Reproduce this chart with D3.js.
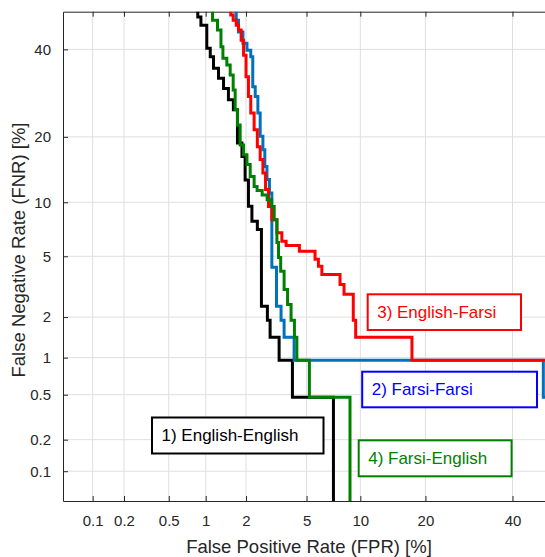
<!DOCTYPE html>
<html>
<head>
<meta charset="utf-8">
<script src="https://cdn.jsdelivr.net/npm/d3@7"></script>
<style>
  html, body { margin: 0; padding: 0; background: #fff; }
  svg { display: block; font-family: "Liberation Sans", Arial, sans-serif; }
</style>
</head>
<body>
<div id="chart"></div>
<script>
'use strict';

// tick values in percent, shared by both axes
const ticks = [0.1, 0.2, 0.5, 1, 2, 5, 10, 20, 40];
const tickLabels = ["0.1", "0.2", "0.5", "1", "2", "5", "10", "20", "40"];

const seriesNames = ["1) English-English", "2) Farsi-Farsi", "3) English-Farsi", "4) Farsi-English"];

// DET curves (FPR %, FNR %), one point per step corner
const engEngFpr = [0.866, 0.866, 0.917, 1.02, 1.085, 1.15, 1.255, 1.37, 1.49, 1.62, 1.735, 1.87, 1.97, 2.08, 2.20, 2.40, 2.56, 2.81, 2.93, 3.36, 4.09, 7.17];
const engEngFnr = [60, 48.6, 46.4, 40.3, 38.1, 35.2, 32.7, 30.3, 27.7, 25.5, 18.85, 16.5, 12.9, 9.53, 7.93, 7.15, 2.38, 1.90, 1.43, 0.952, 0.476, 0.01];

const farFarFpr = [1.70, 1.70, 1.765, 1.90, 2.03, 2.16, 2.23, 2.32, 2.42, 2.51, 2.62, 2.70, 2.79, 2.90, 3.01, 3.23, 3.46, 3.62, 4.19, 48.2, 60];
const farFarFnr = [60, 47.7, 44.6, 41.6, 39.8, 38.1, 30.7, 28.4, 24.8, 20.1, 17.66, 14.9, 12.95, 11.15, 4.29, 2.38, 1.90, 1.43, 0.952, 0.476, 0.476];

const engFarFpr = [1.55, 1.55, 1.615, 1.70, 1.765, 1.845, 1.92, 2.00, 2.08, 2.16, 2.28, 2.40, 2.51, 2.62, 2.73, 2.86, 3.01, 3.25, 3.50, 3.73, 4.52, 5.62, 5.88, 6.16, 7.80, 8.20, 9.19, 9.46, 17.55, 60];
const engFarFnr = [60, 49.1, 47.7, 46.4, 45.1, 42.4, 38.5, 33.1, 28.4, 24.8, 21.35, 18.2, 16.0, 13.9, 11.6, 9.5, 8.1, 6.86, 6.14, 5.8, 5.36, 4.8, 4.35, 3.86, 3.33, 2.87, 1.90, 1.43, 0.952, 0.952];

const farEngFpr = [1.13, 1.13, 1.233, 1.31, 1.355, 1.45, 1.535, 1.615, 1.67, 1.735, 1.815, 1.92, 2.03, 2.14, 2.28, 2.39, 2.59, 2.80, 3.00, 3.12, 3.25, 3.33, 3.44, 3.62, 3.81, 4.01, 4.21, 4.36, 5.20, 8.83];
const farEngFnr = [60, 47.7, 45.1, 40.7, 37.7, 36.0, 33.5, 29.95, 25.5, 22.3, 18.5, 16.8, 15.2, 13.4, 12.0, 11.45, 10.9, 10.3, 9.5, 8.1, 6.03, 4.92, 4.04, 3.09, 2.45, 1.90, 1.43, 0.952, 0.476, 0.01];

(function() {
    // inverse normal CDF (Acklam's approximation), used for the DET axes
    function probit(p) {
        var a = [-3.969683028665376e+01, 2.209460984245205e+02, -2.759285104469687e+02, 1.383577518672690e+02, -3.066479806614716e+01, 2.506628277459239e+00];
        var b = [-5.447609879822406e+01, 1.615858368580409e+02, -1.556989798598866e+02, 6.680131188771972e+01, -1.328068155288572e+01];
        var c = [-7.784894002430293e-03, -3.223964580411365e-01, -2.400758277161838e+00, -2.549732539343734e+00, 4.374664141464968e+00, 2.938163982698783e+00];
        var d = [7.784695709041462e-03, 3.224671290700398e-01, 2.445134137142996e+00, 3.754408661907416e+00];
        var pl = 0.02425, q, r;
        if (p < pl) {
            q = Math.sqrt(-2 * Math.log(p));
            return (((((c[0]*q+c[1])*q+c[2])*q+c[3])*q+c[4])*q+c[5]) / ((((d[0]*q+d[1])*q+d[2])*q+d[3])*q+1);
        }
        if (p <= 1 - pl) {
            q = p - 0.5; r = q * q;
            return (((((a[0]*r+a[1])*r+a[2])*r+a[3])*r+a[4])*r+a[5])*q / (((((b[0]*r+b[1])*r+b[2])*r+b[3])*r+b[4])*r+1);
        }
        q = Math.sqrt(-2 * Math.log(1 - p));
        return -(((((c[0]*q+c[1])*q+c[2])*q+c[3])*q+c[4])*q+c[5]) / ((((d[0]*q+d[1])*q+d[2])*q+d[3])*q+1);
    }
    function pr(pct) { return probit(pct / 100); }

    var W = 545, H = 557;
    var left = 63, right = 550, top = 11.7, bottom = 501;
    var axisColor = "#262626";

    var x = d3.scaleLinear().domain([pr(0.05), pr(50)]).range([left, right]);
    var y = d3.scaleLinear().domain([pr(0.05), pr(50)]).range([bottom, top]);

    var svg = d3.select("#chart").append("svg")
        .attr("width", W).attr("height", H);

    svg.append("rect").attr("width", W).attr("height", H).attr("fill", "#fff");

    svg.append("defs").append("clipPath").attr("id", "plotclip")
        .append("rect")
        .attr("x", left).attr("y", top)
        .attr("width", right - left).attr("height", bottom - top);

    // grid
    var grid = svg.append("g").attr("stroke", "#dfdfdf").attr("stroke-width", 1);
    ticks.forEach(function(t) {
        grid.append("line")
            .attr("x1", x(pr(t))).attr("x2", x(pr(t)))
            .attr("y1", top).attr("y2", bottom);
        grid.append("line")
            .attr("x1", left).attr("x2", right)
            .attr("y1", y(pr(t))).attr("y2", y(pr(t)));
    });

    var tickPos = ticks.map(pr);

    // axes, MATLAB style ticks pointing inwards
    var xAxis = d3.axisBottom(x).tickValues(tickPos)
        .tickFormat(function(d, i) { return tickLabels[i]; })
        .tickSizeInner(-5).tickSizeOuter(0).tickPadding(14);
    var gx = svg.append("g").attr("transform", "translate(0," + bottom + ")").call(xAxis);

    var gxTop = svg.append("g").attr("transform", "translate(0," + top + ")")
        .call(d3.axisTop(x).tickValues(tickPos).tickFormat("").tickSizeInner(-5).tickSizeOuter(0));

    var yAxis = d3.axisLeft(y).tickValues(tickPos)
        .tickFormat(function(d, i) { return tickLabels[i]; })
        .tickSizeInner(-5).tickSizeOuter(0).tickPadding(12);
    var gy = svg.append("g").attr("transform", "translate(" + left + ",0)").call(yAxis);

    [gx, gxTop, gy].forEach(function(g) {
        g.selectAll(".domain").attr("stroke", axisColor).attr("stroke-width", 1);
        g.selectAll(".tick line").attr("stroke", axisColor).attr("stroke-width", 1);
        g.selectAll(".tick text")
            .attr("fill", axisColor)
            .style("font-family", '"Liberation Sans", Arial, sans-serif')
            .style("font-size", "15px");
    });

    // curves
    var series = [
        { fpr: engEngFpr, fnr: engEngFnr, color: "#000000" },
        { fpr: farFarFpr, fnr: farFarFnr, color: "#0072BD" },
        { fpr: engFarFpr, fnr: engFarFnr, color: "#FF0000" },
        { fpr: farEngFpr, fnr: farEngFnr, color: "#008000" }
    ];

    var line = d3.line()
        .x(function(d) { return x(pr(d[0])); })
        .y(function(d) { return y(pr(d[1])); })
        .curve(d3.curveStepAfter);

    var plot = svg.append("g").attr("clip-path", "url(#plotclip)");
    series.forEach(function(s) {
        var pts = s.fpr.map(function(v, i) { return [v, s.fnr[i]]; });
        plot.append("path")
            .attr("d", line(pts))
            .attr("fill", "none")
            .attr("stroke", s.color)
            .attr("stroke-width", 3)
            .attr("stroke-linejoin", "miter");
    });

    // text box labels
    var boxes = [
        { name: seriesNames[0], color: "#000000", x: 152, y: 417.5, w: 171.5, h: 36 },
        { name: seriesNames[1], color: "#0000FF", x: 362.2, y: 371.7, w: 174.8, h: 35.6 },
        { name: seriesNames[2], color: "#FF0000", x: 367.7, y: 294.3, w: 153.3, h: 35.7 },
        { name: seriesNames[3], color: "#008000", x: 358.7, y: 440.3, w: 152.9, h: 36 }
    ];
    boxes.forEach(function(b) {
        var g = svg.append("g");
        g.append("rect")
            .attr("x", b.x).attr("y", b.y)
            .attr("width", b.w).attr("height", b.h)
            .attr("fill", "#fff")
            .attr("stroke", b.color).attr("stroke-width", 2);
        g.append("text")
            .attr("x", b.x + 9.5).attr("y", b.y + 23.5)
            .attr("fill", b.color)
            .style("font-size", "17px")
            .text(b.name);
    });

    // axis labels
    svg.append("text")
        .attr("x", 309).attr("y", 552.5)
        .attr("text-anchor", "middle")
        .attr("fill", axisColor)
        .style("font-size", "18.5px")
        .text("False Positive Rate (FPR) [%]");

    svg.append("text")
        .attr("transform", "translate(24.5," + 250 + ") rotate(-90)")
        .attr("text-anchor", "middle")
        .attr("fill", axisColor)
        .style("font-size", "18.5px")
        .text("False Negative Rate (FNR) [%]");
})();
</script>
</body>
</html>
